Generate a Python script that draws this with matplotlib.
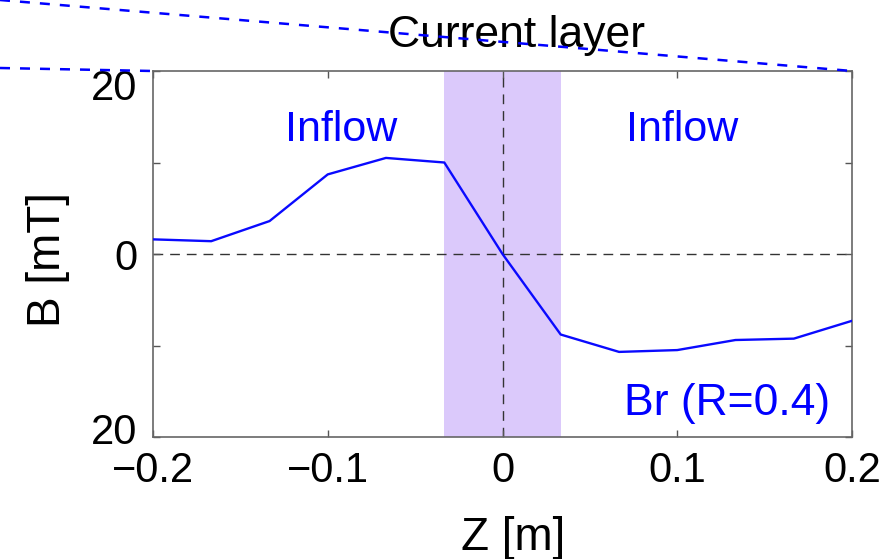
import numpy as np
import matplotlib.pyplot as plt
import matplotlib.transforms as mtransforms
from matplotlib.lines import Line2D

plt.rcParams['font.family'] = ['Liberation Sans', 'DejaVu Sans']

# radial field across the current layer
z = [-0.2, -0.1667, -0.1333, -0.1, -0.0667, -0.0333, 0.0,
     0.0333, 0.0667, 0.1, 0.1333, 0.1667, 0.2]
br = [1.6, 1.4, 3.6, 8.7, 10.5, 10.0, 0.0,
      -8.8, -10.7, -10.5, -9.4, -9.25, -7.3]

layer = (-0.0333, 0.0333)
xticks = [-0.2, -0.1, 0, 0.1, 0.2]
xlabels = ['\u22120.2', '\u22120.1', '0', '0.1', '0.2']
yticks = [-20, -10, 0, 10, 20]
ylabels = ['20', '', '0', '', '20']

W, H = 892, 559
fig = plt.figure(figsize=(W / 100, H / 100), dpi=100)
ax = fig.add_axes([153 / W, 1 - 437 / H, (852 - 153) / W, (437 - 71) / H])

ax.axvspan(layer[0], layer[1], color='#dbc9fb', lw=0, zorder=0)
ax.axhline(0, color='#333333', lw=1, ls=(0, (7, 5)), zorder=1)
ax.axvline(0, color='#333333', lw=1, ls=(0, (7, 5)), zorder=1)
ax.plot(z, br, color='#0a0aff', lw=1.7, zorder=3)

ax.set_xlim(-0.2, 0.2)
ax.set_ylim(-20, 20)
ax.set_xticks(xticks)
ax.set_xticklabels(xlabels)
ax.set_yticks(yticks)
ax.set_yticklabels(ylabels)
ax.tick_params(direction='in', length=5, width=1, color='#555555',
               top=True, right=True, labelsize=30)
ax.tick_params(axis='x', pad=10)
ax.tick_params(axis='y', pad=11)
for s in ax.spines.values():
    s.set_color('#666666')
    s.set_linewidth(1.2)

# end labels sit a little inside the axis limits
ylab = ax.get_yticklabels()
ylab[0].set_transform(ylab[0].get_transform() +
                      mtransforms.ScaledTranslation(0, 0.09, fig.dpi_scale_trans))
ylab[-1].set_transform(ylab[-1].get_transform() +
                       mtransforms.ScaledTranslation(0, -0.13, fig.dpi_scale_trans))

ax.text(-0.0924, 12.4, 'Inflow', color='#0000ff', fontsize=31, ha='center', va='baseline')
ax.text(0.1027, 12.4, 'Inflow', color='#0000ff', fontsize=31, ha='center', va='baseline')
ax.text(0.1285, -17.6, 'Br (R=0.4)', color='#0000ff', fontsize=32, ha='center', va='baseline')

fig.text(513 / W, 1 - 550 / H, 'Z [m]', fontsize=33, ha='center', va='baseline')
fig.text(60 / W, 1 - 260 / H, 'B [mT]', fontsize=33, rotation=90,
         rotation_mode='anchor', ha='center', va='baseline')
fig.text(517 / W, 1 - 47 / H, 'Current layer', fontsize=32, ha='center', va='baseline')

# zoom guides towards the layer drawn above
for (x0, y0), (x1, y1) in [((0, 0), (852, 71)), ((0, 68), (153, 71))]:
    fig.add_artist(Line2D([x0 / W, x1 / W], [1 - y0 / H, 1 - y1 / H],
                          transform=fig.transFigure, color='#0000ff',
                          lw=1.8, ls=(0, (4, 4)), zorder=5))

fig.savefig('out.png', dpi=100)
